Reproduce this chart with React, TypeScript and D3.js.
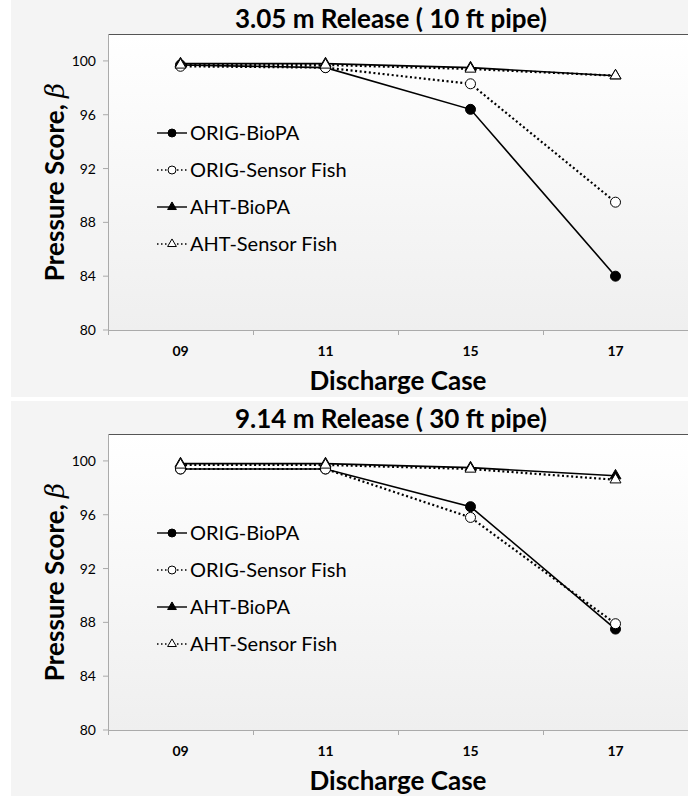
import React from "react";
import * as d3 from "d3";

const categories = ["09", "11", "15", "17"];
const yTicks = [80, 84, 88, 92, 96, 100];
const seriesNames = ["ORIG-BioPA", "ORIG-Sensor Fish", "AHT-BioPA", "AHT-Sensor Fish"];

// 3.05 m release (10 ft pipe)
const origBioPA10 = [99.7, 99.5, 96.4, 84.0];
const origSF10 = [99.6, 99.5, 98.3, 89.5];
const ahtBioPA10 = [99.8, 99.8, 99.5, 98.9];
const ahtSF10 = [99.7, 99.7, 99.4, 98.9];

// 9.14 m release (30 ft pipe)
const origBioPA30 = [99.4, 99.4, 96.6, 87.5];
const origSF30 = [99.4, 99.4, 95.8, 87.9];
const ahtBioPA30 = [99.8, 99.8, 99.5, 98.9];
const ahtSF30 = [99.7, 99.7, 99.4, 98.6];

const titles = ["3.05 m Release ( 10 ft pipe)", "9.14 m Release ( 30 ft pipe)"];

const FONT = "Lato, 'Open Sans', sans-serif";

type Style = { dashed: boolean; marker: "circle" | "triangle"; filled: boolean };
const styles: Style[] = [
  { dashed: false, marker: "circle", filled: true },
  { dashed: true, marker: "circle", filled: false },
  { dashed: false, marker: "triangle", filled: true },
  { dashed: true, marker: "triangle", filled: false },
];

function Marker({ x, y, s, scale = 1 }: { x: number; y: number; s: Style; scale?: number }) {
  const fill = s.filled ? "#000" : "#fff";
  if (s.marker === "circle") {
    return <circle cx={x} cy={y} r={5 * scale} fill={fill} stroke="#000" strokeWidth={1} />;
  }
  const sym = d3.symbol().type(d3.symbolTriangle).size(52 * scale * scale)();
  return <path d={sym || ""} transform={`translate(${x},${y})`} fill={fill} stroke="#000" strokeWidth={1} />;
}

function Panel({ offset, title, data }: { offset: number; title: string; data: number[][] }) {
  const left = 108;
  const right = 688;
  const top = 34 + offset;
  const bottom = 330 + offset;
  const x = d3.scaleBand<string>().domain(categories).range([left, right]);
  const y = d3.scaleLinear().domain([80, 102]).range([bottom, top]);
  const cx = (c: string) => (x(c) as number) + x.bandwidth() / 2;
  const gradId = `plotGrad${offset}`;
  const boundaries = [left, ...categories.map((c) => (x(c) as number) + x.bandwidth())];

  return (
    <g>
      <defs>
        <linearGradient id={gradId} x1="0" y1="0" x2="0" y2="1">
          <stop offset="0" stopColor="#ffffff" />
          <stop offset="1" stopColor="#efefef" />
        </linearGradient>
      </defs>
      <rect x={11} y={offset === 0 ? 0 : offset + 1} width={677} height={offset === 0 ? 397 : 395} fill="#f4f4f4" />
      <text x={391} y={28 + offset} textAnchor="middle" fontFamily={FONT} fontWeight="bold" fontSize={26} fill="#000">
        {title}
      </text>
      <rect x={left} y={top} width={right - left} height={bottom - top} fill={`url(#${gradId})`} />
      <line x1={left} x2={right} y1={top + 0.5} y2={top + 0.5} stroke="#555" strokeWidth={1} />
      {/* y axis */}
      <line x1={left + 0.5} x2={left + 0.5} y1={top} y2={bottom + 4} stroke="#aaa" strokeWidth={1} />
      {yTicks.map((t) => (
        <g key={t}>
          <line x1={left - 5} x2={left} y1={y(t)} y2={y(t)} stroke="#aaa" strokeWidth={1} />
          <text x={96} y={y(t) + 5} textAnchor="end" fontFamily={FONT} fontSize={14} fill="#000">
            {t}
          </text>
        </g>
      ))}
      {/* x axis */}
      <line x1={left} x2={right} y1={bottom + 0.5} y2={bottom + 0.5} stroke="#aaa" strokeWidth={1} />
      {boundaries.map((b, i) => (
        <line key={i} x1={b + 0.5} x2={b + 0.5} y1={bottom} y2={bottom + 5} stroke="#aaa" strokeWidth={1} />
      ))}
      {categories.map((c) => (
        <text key={c} x={cx(c)} y={bottom + 26} textAnchor="middle" fontFamily={FONT} fontWeight="bold" fontSize={14} fill="#000">
          {c}
        </text>
      ))}
      <text x={398} y={bottom + 60} textAnchor="middle" fontFamily={FONT} fontWeight="bold" fontSize={26} fill="#000">
        Discharge Case
      </text>
      <text
        transform={`translate(64,${(top + bottom) / 2}) rotate(-90)`}
        textAnchor="middle"
        fontFamily={FONT}
        fontWeight="bold"
        fontSize={26}
        fill="#000"
      >
        Pressure Score,{" "}
        <tspan fontStyle="italic" fontWeight="normal" fontFamily="'DejaVu Serif', serif">
          β
        </tspan>
      </text>
      {/* series */}
      {data.map((vals, si) => {
        const s = styles[si];
        const line = d3
          .line<number>()
          .x((_, i) => cx(categories[i]))
          .y((v) => y(v));
        return (
          <g key={si}>
            <path
              d={line(vals) || ""}
              fill="none"
              stroke="#000"
              strokeWidth={s.dashed ? 2.2 : 1.6}
              strokeDasharray={s.dashed ? "2 2.6" : undefined}
            />
          </g>
        );
      })}
      {data.map((vals, si) =>
        vals.map((v, i) => <Marker key={`${si}-${i}`} x={cx(categories[i])} y={y(v)} s={styles[si]} />)
      )}
      {/* legend */}
      {seriesNames.map((n, i) => {
        const ly = 133 + offset + i * 37;
        const s = styles[i];
        return (
          <g key={n}>
            <line
              x1={157}
              x2={187}
              y1={ly}
              y2={ly}
              stroke="#000"
              strokeWidth={s.dashed ? 1.6 : 1.4}
              strokeDasharray={s.dashed ? "1.5 2.5" : undefined}
            />
            <Marker x={172} y={ly} s={s} scale={0.8} />
            <text x={190} y={ly + 7} fontFamily={FONT} fontSize={20} fill="#000">
              {n}
            </text>
          </g>
        );
      })}
    </g>
  );
}

export default function App() {
  return (
    <svg width={688} height={796} style={{ position: "absolute", left: 0, top: 0, background: "#fff" }}>
      <Panel offset={0} title={titles[0]} data={[origBioPA10, origSF10, ahtBioPA10, ahtSF10]} />
      <Panel offset={400} title={titles[1]} data={[origBioPA30, origSF30, ahtBioPA30, ahtSF30]} />
    </svg>
  );
}
